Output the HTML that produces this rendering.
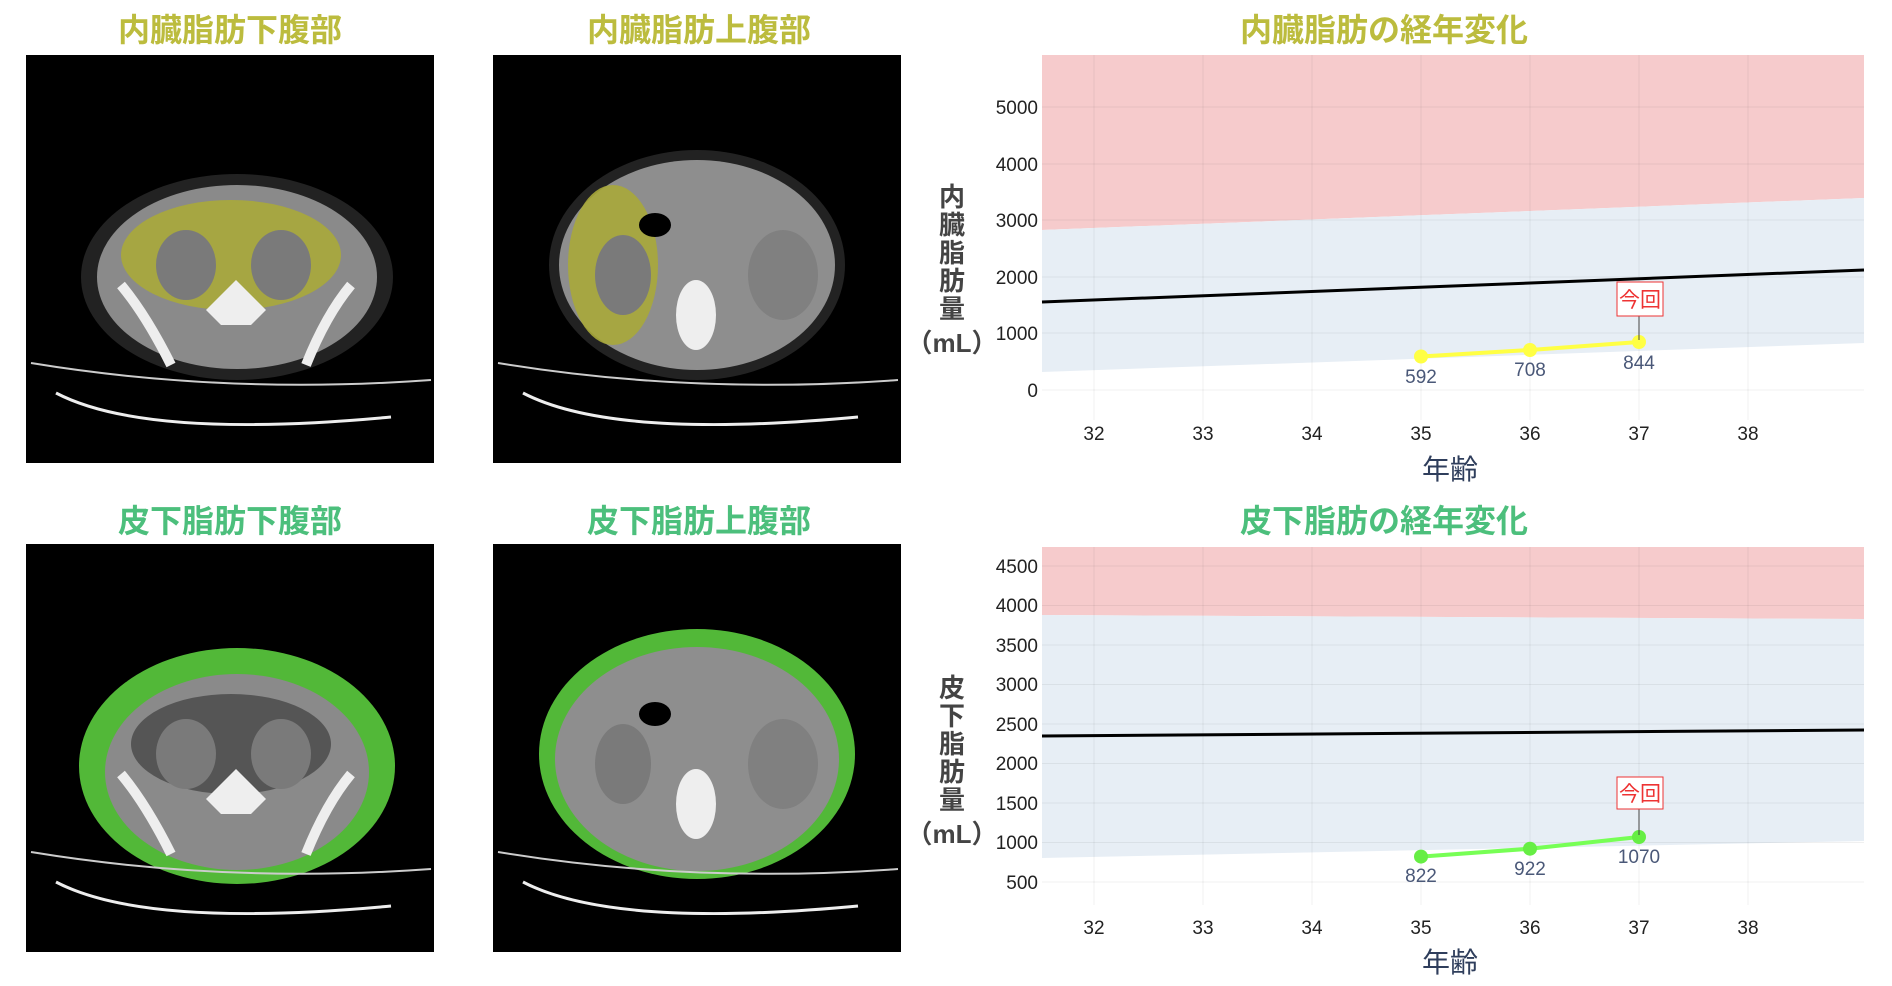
<!DOCTYPE html>
<html><head><meta charset="utf-8"><style>
body{margin:0;width:1892px;height:986px;background:#fff;overflow:hidden;position:relative;font-family:"Liberation Sans","Noto Sans CJK JP",sans-serif}
.t{position:absolute;font-weight:bold;font-size:32px;text-align:center;width:440px;font-family:"Noto Sans CJK JP",sans-serif;line-height:40px}
.img{position:absolute;width:408px;height:408px;background:#000}
svg{position:absolute;left:0;top:0}
</style></head><body>
<div class="t" style="left:10px;top:8px;color:#bcbc3e">内臓脂肪下腹部</div>
<div class="t" style="left:479px;top:8px;color:#bcbc3e">内臓脂肪上腹部</div>
<div class="t" style="left:1164px;top:8px;color:#bcbc3e">内臓脂肪の経年変化</div>
<div class="t" style="left:10px;top:499px;color:#4cbf7c">皮下脂肪下腹部</div>
<div class="t" style="left:479px;top:499px;color:#4cbf7c">皮下脂肪上腹部</div>
<div class="t" style="left:1164px;top:499px;color:#4cbf7c">皮下脂肪の経年変化</div>

<div class="img" style="left:26px;top:55px"><svg width="408" height="408">
<ellipse cx="211" cy="222" rx="156" ry="103" fill="#222"/>
<ellipse cx="211" cy="222" rx="140" ry="92" fill="#8a8a8a"/>
<ellipse cx="205" cy="200" rx="110" ry="55" fill="#a8a83a" opacity=".9"/>
<ellipse cx="160" cy="210" rx="30" ry="35" fill="#7a7a7a"/><ellipse cx="255" cy="210" rx="30" ry="35" fill="#7a7a7a"/>
<path d="M180 255 L210 225 L240 255 L225 270 L195 270Z" fill="#eee"/>
<path d="M95 230 Q120 260 145 310" stroke="#eee" stroke-width="10" fill="none"/><path d="M325 230 Q300 260 280 310" stroke="#eee" stroke-width="10" fill="none"/>
<path d="M5 308 Q200 340 405 325" stroke="#ccc" stroke-width="2" fill="none"/><path d="M30 338 Q120 385 365 362" stroke="#eee" stroke-width="3" fill="none"/>
</svg></div>
<div class="img" style="left:493px;top:55px"><svg width="408" height="408">
<ellipse cx="204" cy="210" rx="148" ry="115" fill="#222"/>
<ellipse cx="204" cy="210" rx="138" ry="105" fill="#8e8e8e"/>
<ellipse cx="120" cy="210" rx="45" ry="80" fill="#a8a83a" opacity=".9"/>
<ellipse cx="130" cy="220" rx="28" ry="40" fill="#7a7a7a"/><ellipse cx="290" cy="220" rx="35" ry="45" fill="#808080"/>
<ellipse cx="162" cy="170" rx="16" ry="12" fill="#000"/><ellipse cx="203" cy="260" rx="20" ry="35" fill="#eee"/>
<path d="M5 308 Q200 340 405 325" stroke="#ccc" stroke-width="2" fill="none"/><path d="M30 338 Q120 385 365 362" stroke="#eee" stroke-width="3" fill="none"/>
</svg></div>
<div class="img" style="left:26px;top:544px"><svg width="408" height="408">
<ellipse cx="211" cy="222" rx="158" ry="118" fill="#52b838"/>
<ellipse cx="211" cy="228" rx="132" ry="98" fill="#8a8a8a"/>
<ellipse cx="205" cy="200" rx="100" ry="50" fill="#555"/>
<ellipse cx="160" cy="210" rx="30" ry="35" fill="#7a7a7a"/><ellipse cx="255" cy="210" rx="30" ry="35" fill="#7a7a7a"/>
<path d="M180 255 L210 225 L240 255 L225 270 L195 270Z" fill="#eee"/>
<path d="M95 230 Q120 260 145 310" stroke="#eee" stroke-width="10" fill="none"/><path d="M325 230 Q300 260 280 310" stroke="#eee" stroke-width="10" fill="none"/>
<path d="M5 308 Q200 340 405 325" stroke="#ccc" stroke-width="2" fill="none"/><path d="M30 338 Q120 385 365 362" stroke="#eee" stroke-width="3" fill="none"/>
</svg></div>
<div class="img" style="left:493px;top:544px"><svg width="408" height="408">
<ellipse cx="204" cy="210" rx="158" ry="125" fill="#52b838"/>
<ellipse cx="204" cy="215" rx="142" ry="112" fill="#8e8e8e"/>
<ellipse cx="130" cy="220" rx="28" ry="40" fill="#7a7a7a"/><ellipse cx="290" cy="220" rx="35" ry="45" fill="#808080"/>
<ellipse cx="162" cy="170" rx="16" ry="12" fill="#000"/><ellipse cx="203" cy="260" rx="20" ry="35" fill="#eee"/>
<path d="M5 308 Q200 340 405 325" stroke="#ccc" stroke-width="2" fill="none"/><path d="M30 338 Q120 385 365 362" stroke="#eee" stroke-width="3" fill="none"/>
</svg></div>

<svg width="1892" height="986" style="font-family:'Liberation Sans','Noto Sans CJK JP',sans-serif">
<!-- chart 1 -->
<polygon points="1042,55 1864,55 1864,198 1042,230" fill="#f6cbcc"/>
<polygon points="1042,230 1864,198 1864,343 1042,372" fill="#e7eef5"/>
<g stroke="#000" stroke-opacity=".06" stroke-width="1">
<line x1="1094" y1="55" x2="1094" y2="420"/><line x1="1203" y1="55" x2="1203" y2="420"/><line x1="1312" y1="55" x2="1312" y2="420"/><line x1="1421" y1="55" x2="1421" y2="420"/><line x1="1530" y1="55" x2="1530" y2="420"/><line x1="1639" y1="55" x2="1639" y2="420"/><line x1="1748" y1="55" x2="1748" y2="420"/>
<line x1="1042" y1="107" x2="1864" y2="107"/><line x1="1042" y1="164" x2="1864" y2="164"/><line x1="1042" y1="220" x2="1864" y2="220"/><line x1="1042" y1="277" x2="1864" y2="277"/><line x1="1042" y1="333" x2="1864" y2="333"/><line x1="1042" y1="390" x2="1864" y2="390"/>
</g>
<line x1="1042" y1="302" x2="1864" y2="270" stroke="#000" stroke-width="3"/>
<polyline points="1421,356.5 1530,350 1639,342" stroke="#ffff44" stroke-width="4" fill="none"/>
<circle cx="1421" cy="356.5" r="7" fill="#ffff44"/><circle cx="1530" cy="350" r="7" fill="#ffff44"/><circle cx="1639" cy="342" r="7" fill="#ffff44"/>
<g font-size="19" fill="#4a5878" text-anchor="middle"><text x="1421" y="383">592</text><text x="1530" y="376">708</text><text x="1639" y="369">844</text></g>
<line x1="1639" y1="316" x2="1639" y2="340" stroke="#444" stroke-width="1"/>
<rect x="1617" y="282" width="46" height="34" fill="#fff" stroke="#e33" stroke-width="1"/>
<text x="1640" y="307" font-size="21" fill="#e33" text-anchor="middle">今回</text>
<g font-size="19" fill="#222" text-anchor="end"><text x="1038" y="114">5000</text><text x="1038" y="171">4000</text><text x="1038" y="227">3000</text><text x="1038" y="284">2000</text><text x="1038" y="340">1000</text><text x="1038" y="397">0</text></g>
<g font-size="19" fill="#222" text-anchor="middle"><text x="1094" y="440">32</text><text x="1203" y="440">33</text><text x="1312" y="440">34</text><text x="1421" y="440">35</text><text x="1530" y="440">36</text><text x="1639" y="440">37</text><text x="1748" y="440">38</text></g>
<text x="1450" y="479" font-size="28" fill="#2f3e5c" text-anchor="middle">年齢</text>
<g font-size="26" font-weight="bold" fill="#444" text-anchor="middle"><text x="952" y="206">内</text><text x="952" y="234">臓</text><text x="952" y="262">脂</text><text x="952" y="290">肪</text><text x="952" y="318">量</text><text x="952" y="352">（mL）</text></g>

<!-- chart 2 -->
<polygon points="1042,547 1864,547 1864,619 1042,615" fill="#f6cbcc"/>
<polygon points="1042,615 1864,619 1864,841 1042,858" fill="#e7eef5"/>
<g stroke="#000" stroke-opacity=".06" stroke-width="1">
<line x1="1094" y1="547" x2="1094" y2="905"/><line x1="1203" y1="547" x2="1203" y2="905"/><line x1="1312" y1="547" x2="1312" y2="905"/><line x1="1421" y1="547" x2="1421" y2="905"/><line x1="1530" y1="547" x2="1530" y2="905"/><line x1="1639" y1="547" x2="1639" y2="905"/><line x1="1748" y1="547" x2="1748" y2="905"/>
<line x1="1042" y1="566" x2="1864" y2="566"/><line x1="1042" y1="605.5" x2="1864" y2="605.5"/><line x1="1042" y1="645" x2="1864" y2="645"/><line x1="1042" y1="684.5" x2="1864" y2="684.5"/><line x1="1042" y1="724" x2="1864" y2="724"/><line x1="1042" y1="763.5" x2="1864" y2="763.5"/><line x1="1042" y1="803" x2="1864" y2="803"/><line x1="1042" y1="842.5" x2="1864" y2="842.5"/><line x1="1042" y1="882" x2="1864" y2="882"/>
</g>
<line x1="1042" y1="736" x2="1864" y2="730" stroke="#000" stroke-width="3"/>
<polyline points="1421,856.6 1530,848.7 1639,837" stroke="#77ff55" stroke-width="4" fill="none"/>
<circle cx="1421" cy="856.6" r="7" fill="#66ee44"/><circle cx="1530" cy="848.7" r="7" fill="#66ee44"/><circle cx="1639" cy="837" r="7" fill="#66ee44"/>
<g font-size="19" fill="#4a5878" text-anchor="middle"><text x="1421" y="882">822</text><text x="1530" y="875">922</text><text x="1639" y="863">1070</text></g>
<line x1="1639" y1="809" x2="1639" y2="835" stroke="#444" stroke-width="1"/>
<rect x="1617" y="777" width="46" height="32" fill="#fff" stroke="#e33" stroke-width="1"/>
<text x="1640" y="801" font-size="21" fill="#e33" text-anchor="middle">今回</text>
<g font-size="19" fill="#222" text-anchor="end"><text x="1038" y="573">4500</text><text x="1038" y="612">4000</text><text x="1038" y="652">3500</text><text x="1038" y="691">3000</text><text x="1038" y="731">2500</text><text x="1038" y="770">2000</text><text x="1038" y="810">1500</text><text x="1038" y="849">1000</text><text x="1038" y="889">500</text></g>
<g font-size="19" fill="#222" text-anchor="middle"><text x="1094" y="934">32</text><text x="1203" y="934">33</text><text x="1312" y="934">34</text><text x="1421" y="934">35</text><text x="1530" y="934">36</text><text x="1639" y="934">37</text><text x="1748" y="934">38</text></g>
<text x="1450" y="972" font-size="28" fill="#2f3e5c" text-anchor="middle">年齢</text>
<g font-size="26" font-weight="bold" fill="#444" text-anchor="middle"><text x="952" y="697">皮</text><text x="952" y="725">下</text><text x="952" y="753">脂</text><text x="952" y="781">肪</text><text x="952" y="809">量</text><text x="952" y="843">（mL）</text></g>
</svg>
</body></html>
